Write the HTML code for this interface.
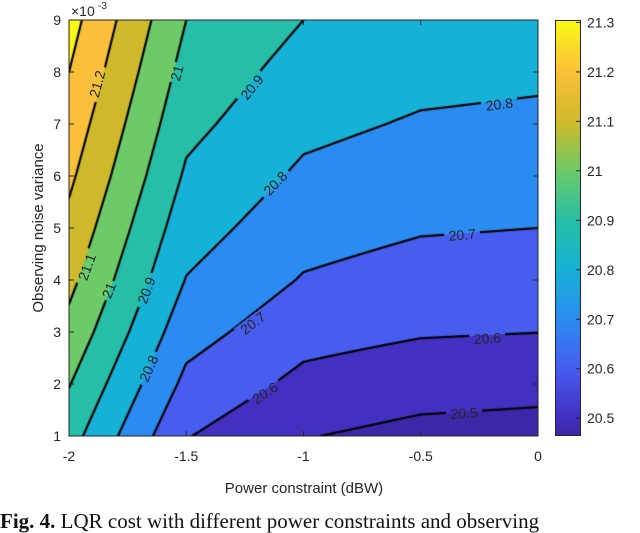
<!DOCTYPE html>
<html><head><meta charset="utf-8">
<style>
body{margin:0;background:#fff;width:640px;height:519px;overflow:hidden;position:relative;font-family:"Liberation Sans",sans-serif;}
#fill,#lines{position:absolute;left:69px;top:20px;}
svg{position:absolute;left:0;top:0;}
.cap{position:absolute;left:0;top:509px;font-family:"Liberation Serif",serif;font-size:21px;line-height:24px;color:#111;white-space:nowrap;}
</style></head><body>
<canvas id="fill" width="469" height="416"></canvas>
<canvas id="lines" width="469" height="416"></canvas>
<div id="cbar" style="position:absolute;left:555px;top:20px;width:26px;height:416px;border:1px solid #262626;box-sizing:border-box;"></div>
<svg id="ax" width="640" height="519"></svg>
<div class="cap"><b>Fig. 4.</b> LQR cost with different power constraints and observing</div>
<script>
const xs=[-2,-1.5,-1,-0.5,0];
const ys=[1,2,3,4,5,6,7,8,9];
// rows indexed by y (1..9), columns by x
const z_m2=[20.94,21.005,21.07,21.126,21.174,21.219,21.259,21.30,21.337];
const z_m15=[20.605,20.675,20.738,20.796,20.842,20.886,20.926,20.963,21.0];
const z_m1=[20.505,20.574,20.635,20.693,20.739,20.783,20.824,20.862,20.9];
const z_m05=[20.471,20.541,20.608,20.659,20.708,20.749,20.79,20.828,20.863];
const z_0=[20.461,20.531,20.601,20.651,20.70,20.74,20.78,20.817,20.85];
const levels=[20.5,20.6,20.7,20.8,20.9,21.0,21.1,21.2,21.3];
const xTicks=[-2,-1.5,-1,-0.5,0];
const yTicks=[1,2,3,4,5,6,7,8,9];
const cbTicks=[20.5,20.6,20.7,20.8,20.9,21,21.1,21.2,21.3];
const labels=[
 {t:"21.2",x:-1.88,y:7.77,a:-75},{t:"21",x:-1.54,y:7.98,a:-74},{t:"20.9",x:-1.22,y:7.71,a:-51},
 {t:"20.8",x:-1.12,y:5.86,a:-46},{t:"21.1",x:-1.924,y:4.25,a:-70},{t:"21",x:-1.83,y:3.8,a:-68},
 {t:"20.9",x:-1.67,y:3.8,a:-70},{t:"20.8",x:-1.66,y:2.3,a:-66},{t:"20.7",x:-1.216,y:3.17,a:-37},
 {t:"20.6",x:-1.164,y:1.83,a:-33},{t:"20.8",x:-0.165,y:7.38,a:-7},{t:"20.7",x:-0.323,y:4.87,a:-5},
 {t:"20.6",x:-0.216,y:2.88,a:-4},{t:"20.5",x:-0.315,y:1.44,a:-4}
];
const cols=[z_m2,z_m15,z_m1,z_m05,z_0];
const PL=69,PT=20,PW=469,PH=416;
const xmin=-2,xmax=0,ymin=1,ymax=9;
const sx=x=>PL+(x-xmin)/(xmax-xmin)*PW;
const sy=y=>PT+(ymax-y)/(ymax-ymin)*PH;
const cmin=20.464,cmax=21.305;
const par=[[0,62,38,168],[0.043,66,48,192],[0.16,70,92,240],[0.28,42,140,240],[0.40,22,177,214],[0.518,37,190,166],[0.637,108,202,104],[0.756,206,185,42],[0.875,250,192,58],[0.94,250,220,40],[1,249,251,21]];
function parula(t){t=Math.max(0,Math.min(1,t));for(let i=0;i<par.length-1;i++){const a=par[i],b=par[i+1];if(t<=b[0]){const f=(t-a[0])/(b[0]-a[0]);return [a[1]+f*(b[1]-a[1]),a[2]+f*(b[2]-a[2]),a[3]+f*(b[3]-a[3])];}}return par[par.length-1].slice(1);}
function zAt(x,y){
 let i=Math.min(xs.length-2,Math.max(0,Math.floor((x-xs[0])/(xs[1]-xs[0]))));
 let j=Math.min(ys.length-2,Math.max(0,Math.floor((y-ys[0])/(ys[1]-ys[0]))));
 const fx=(x-xs[i])/(xs[i+1]-xs[i]),fy=(y-ys[j])/(ys[j+1]-ys[j]);
 const a=cols[i][j],b=cols[i+1][j],c=cols[i][j+1],d=cols[i+1][j+1];
 return a*(1-fx)*(1-fy)+b*fx*(1-fy)+c*(1-fx)*fy+d*fx*fy;
}
const px2x=i=>xmin+i/PW*(xmax-xmin), px2y=j=>ymax-j/PH*(ymax-ymin);
const fc=document.getElementById('fill').getContext('2d');
const img=fc.createImageData(PW,PH);
for(let j=0;j<PH;j++)for(let i=0;i<PW;i++){
 const z=zAt(px2x(i+0.5),px2y(j+0.5));
 let L=cmin;for(const l of levels)if(z>=l)L=l;
 const c=parula((L-cmin)/(cmax-cmin));const k=(j*PW+i)*4;
 img.data[k]=c[0];img.data[k+1]=c[1];img.data[k+2]=c[2];img.data[k+3]=255;}
fc.putImageData(img,0,0);
const lc=document.getElementById('lines').getContext('2d');
const N=PW,M=PH,Z=[];
for(let j=0;j<=M;j++){const r=[];for(let i=0;i<=N;i++)r.push(zAt(px2x(i),px2y(j)));Z.push(r);}
lc.strokeStyle='#000';lc.lineWidth=2.2;lc.lineCap='round';
for(const L of levels){lc.beginPath();
 for(let j=0;j<M;j++)for(let i=0;i<N;i++){
  const v=[Z[j][i],Z[j][i+1],Z[j+1][i+1],Z[j+1][i]];
  const p=[[i,j],[i+1,j],[i+1,j+1],[i,j+1]];const pts=[];
  for(let e=0;e<4;e++){const a=v[e],b=v[(e+1)%4];if((a<L)!==(b<L)){const f=(L-a)/(b-a);pts.push([p[e][0]+f*(p[(e+1)%4][0]-p[e][0]),p[e][1]+f*(p[(e+1)%4][1]-p[e][1])]);}}
  for(let k=0;k+1<pts.length;k+=2){lc.moveTo(pts[k][0],pts[k][1]);lc.lineTo(pts[k+1][0],pts[k+1][1]);}
 }lc.stroke();}
for(const lb of labels){const w=lb.t.length*7.5+6;lc.save();lc.translate(sx(lb.x)-PL,sy(lb.y)-PT);lc.rotate(lb.a*Math.PI/180);lc.clearRect(-w/2,-7,w,14);lc.restore();}
const stops=par.map(p=>`rgb(${p[1]},${p[2]},${p[3]}) ${p[0]*100}%`).join(',');
document.getElementById('cbar').style.background=`linear-gradient(to top,${stops})`;
const NS='http://www.w3.org/2000/svg',svg=document.getElementById('ax');
function mk(tag,attrs,txt){const e=document.createElementNS(NS,tag);for(const k in attrs)e.setAttribute(k,attrs[k]);if(txt!==undefined)e.textContent=txt;svg.appendChild(e);return e;}
const fr=mk('rect',{x:PL,y:PT,width:PW,height:PH,fill:'none',stroke:'#262626','stroke-width':1});


for(const t of xTicks){const X=sx(t);
 mk('line',{x1:X,x2:X,y1:PT+PH,y2:PT+PH-5,stroke:'#262626'});mk('line',{x1:X,x2:X,y1:PT,y2:PT+5,stroke:'#262626'});
 const e=mk('text',{x:X,y:461,'text-anchor':'middle','font-size':14,fill:'#262626'},String(t));
 
 }
for(const t of yTicks){const Y=sy(t);
 mk('line',{x1:PL,x2:PL+5,y1:Y,y2:Y,stroke:'#262626'});mk('line',{x1:PL+PW,x2:PL+PW-5,y1:Y,y2:Y,stroke:'#262626'});
 const e=mk('text',{x:61,y:Y+5,'text-anchor':'end','font-size':14,fill:'#262626'},String(t));
 
 }
const ex=mk('text',{x:71,y:16,'font-size':14,fill:'#262626'},'×10');


mk('text',{x:98,y:9,'font-size':10,fill:'#262626'},'-3');
const xl=mk('text',{x:304,y:493,'text-anchor':'middle','font-size':15,fill:'#262626'},'Power constraint (dBW)');


const yl=mk('text',{x:0,y:0,'text-anchor':'middle','font-size':15,fill:'#262626',transform:'translate(43,228) rotate(-90)'},'Observing noise variance');


const cy=v=>PT+(cmax-v)/(cmax-cmin)*PH;
for(const t of cbTicks){const Y=cy(t);
 mk('line',{x1:576,x2:581,y1:Y,y2:Y,stroke:'#262626'});
 const e=mk('text',{x:587,y:Y+5,'font-size':14,fill:'#262626'},String(t));
 
 }
for(const lb of labels){
 const e=mk('text',{x:0,y:0,'text-anchor':'middle','dominant-baseline':'central','font-size':14,fill:'#262626',transform:`translate(${sx(lb.x)},${sy(lb.y)}) rotate(${lb.a})`},lb.t);
 
 }
</script>
</body></html>
